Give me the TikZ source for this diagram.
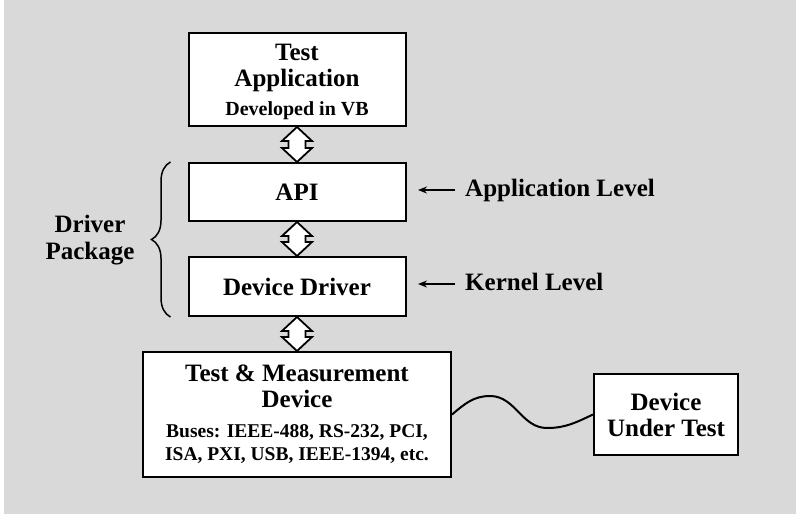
\documentclass[tikz,border=0pt]{standalone}
\usepackage{fontspec}
\setmainfont{Liberation Serif}
\usetikzlibrary{calc,decorations.pathreplacing,arrows.meta}
\definecolor{bggray}{RGB}{217,217,217}
\newcommand\myDblArrow[2]{%
  \path[dblarrow] let \p1=(#1.south), \p2=(#2.north) in
   (\x1,\y1) -- (\x1+15pt,\y1-14pt) -- (\x1+8.5pt,\y1-14pt) -- (\x1+8.5pt,\y2+14pt)
   -- (\x1+15pt,\y2+14pt) -- (\x1,\y2) -- (\x1-15pt,\y2+14pt) -- (\x1-8.5pt,\y2+14pt)
   -- (\x1-8.5pt,\y1-14pt) -- (\x1-15pt,\y1-14pt) -- cycle;}
\begin{document}
\begin{tikzpicture}[x=1pt,y=1pt,
  boxnode/.style={draw=black,line width=2pt,fill=white,inner sep=0pt,align=center,
    font=\bfseries\fontsize{25}{26}\selectfont},
  dblarrow/.style={draw=black,line width=1.8pt,fill=white,line join=miter},
  lbl/.style={inner sep=0pt,font=\bfseries\fontsize{25}{27}\selectfont},
  lvlarrow/.style={line width=1.5pt,-{Stealth[length=9pt,width=7pt]}},
  wire/.style={line width=2pt},
  bracestyle/.style={line width=1.5pt,decorate,decoration={brace,amplitude=19pt}}]
\fill[white] (0,0) rectangle (796,-514);
\fill[bggray] (4,0) rectangle (796,-514);
\useasboundingbox (0,0) rectangle (796,-514);

\node[boxnode,minimum width=217pt,minimum height=93pt] (app) at (297,-79.5)
  {\rule{0pt}{4pt}\\[-8pt]Test\\Application\\[3pt]{\fontsize{20}{24}\selectfont Developed in VB}};
\node[boxnode,minimum width=217pt,minimum height=58pt] (api) at (297,-192) {API};
\node[boxnode,minimum width=217pt,minimum height=59pt] (drv) at (297,-286.5) {Device Driver};
\node[boxnode,minimum width=308pt,minimum height=125pt] (tm) at (297,-414.5)
  {Test \& Measurement\\Device\\[4pt]{\fontsize{19.5}{21}\selectfont Buses: IEEE-488, RS-232, PCI,}\\[-3pt]{\fontsize{19.5}{21}\selectfont ISA, PXI, USB, IEEE-1394, etc.}};
\node[boxnode,minimum width=144pt,minimum height=81pt] (dut) at (666,-414.5) {Device\\Under Test};

\node[lbl,align=center] (pkg) at (90,-240) {Driver\\Package};
\node[lbl,anchor=base west] (al) at (465,-196) {Application Level};
\node[lbl,anchor=base west] (kl) at (465,-290) {Kernel Level};

\myDblArrow{app}{api}
\myDblArrow{api}{drv}
\myDblArrow{drv}{tm}

\draw[bracestyle] ([xshift=-17pt]drv.south west) -- ([xshift=-17pt]api.north west);

\draw[lvlarrow] ([xshift=-10pt,yshift=6pt]al.base west) -- ([xshift=-47pt,yshift=6pt]al.base west);
\draw[lvlarrow] ([xshift=-10pt,yshift=6pt]kl.base west) -- ([xshift=-47pt,yshift=6pt]kl.base west);

\draw[wire] (tm.east) to[out=40,in=180] (490,-396) to[out=0,in=180] (547,-428) to[out=0,in=205] (dut.west);
\end{tikzpicture}
\end{document}
